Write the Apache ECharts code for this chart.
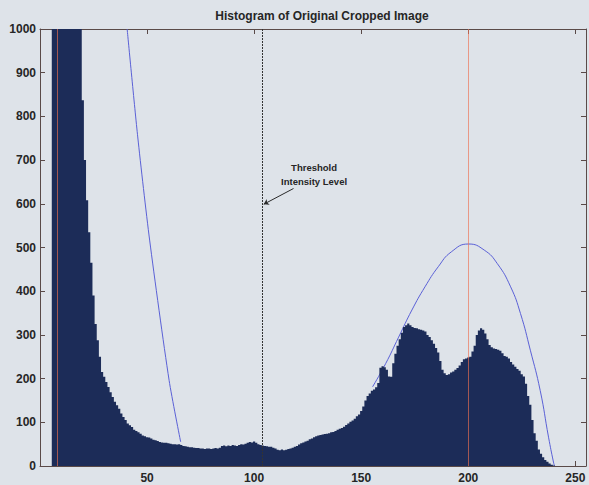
<!DOCTYPE html>
<html>
<head>
<meta charset="utf-8">
<script src="https://cdn.jsdelivr.net/npm/echarts@6/dist/echarts.min.js"></script>
<style>
  html, body { margin: 0; padding: 0; background: #dee3e9; }
  #chart { width: 589px; height: 485px; }
</style>
</head>
<body>
<div id="chart"></div>
<script>
// Pixel counts per grey level (0..255). Levels 6-19 run far above the 1000 limit.
const binCounts = [
  0, 0, 0, 0, 0, 0, 5400, 7600, 8200, 7100,
  6000, 4900, 4100, 3400, 2800, 2300, 1900, 1600, 1350, 1120,
  837, 700, 608, 535, 465, 390, 325, 288, 250, 215,
  204, 192, 181, 169, 158, 147, 139, 131, 120, 112,
  105, 97, 93, 89, 83, 80, 77, 74, 70, 68,
  66, 65, 63, 60, 59, 57, 55, 54, 53, 53,
  52, 51, 50, 50, 49, 50, 48, 46, 45, 44,
  43, 43, 42, 41, 41, 40, 40, 39, 40, 40,
  39, 40, 41, 40, 42, 46, 47, 45, 47, 46,
  48, 47, 46, 48, 50, 49, 51, 53, 55, 54,
  56, 53, 50, 48, 47, 46, 45, 44, 44, 42,
  40, 37, 36, 38, 36, 37, 39, 40, 42, 44,
  46, 49, 52, 54, 56, 58, 61, 63, 66, 68,
  70, 71, 72, 73, 74, 75, 77, 78, 80, 83,
  85, 87, 90, 94, 97, 101, 104, 108, 114, 118,
  126, 136, 150, 160, 166, 172, 175, 180, 190, 225,
  228, 226, 220, 205, 204, 235, 257, 275, 290, 305,
  318, 322, 326, 322, 318, 316, 315, 313, 312, 310,
  308, 300, 295, 288, 280, 270, 260, 240, 220, 212,
  208, 210, 214, 216, 220, 224, 230, 238, 244, 246,
  248, 250, 262, 275, 300, 310, 315, 312, 303, 290,
  277, 272, 269, 268, 266, 264, 258, 252, 250, 246,
  238, 232, 227, 222, 218, 210, 205, 188, 160, 140,
  105, 75, 58, 38, 28, 20, 14, 10, 6, 3,
  1, 0, 0, 0, 0, 0, 0, 0, 0, 0,
  0, 0, 0, 0, 0, 0
];

// Fitted curve on the dark side (falling branch)
const darkFitX = [40.7, 45.65, 51.2, 60.3, 65.7];
const darkFitY = [1000, 753, 517, 196, 55];

// Fitted curve on the bright side
const brightFitX = [155.3, 161.4, 167.5, 173.7, 179.8, 186.0, 192.1, 200.1, 207.5, 213.6, 219.8, 224.4, 229.0, 233.6, 237.5, 239.8, 240.3];
const brightFitY = [181, 234, 295, 357, 410, 456, 490, 508, 494, 463, 410, 349, 265, 173, 66, 9, 0];

// Vertical reference levels
const peakLevels = [8, 200];
const thresholdLevel = 104;

// Annotation anchor points (data coordinates)
const arrowFrom = [118.4, 635];
const arrowTo = [104.5, 599];
const noteAt = [128, 668];

const xTicks = [50, 100, 150, 200, 250];

const FONT = '"Liberation Sans", Arial, Helvetica, sans-serif';
const AXIS_COLOR = '#5a4a48';
const TEXT_COLOR = '#262626';
const BAR_COLOR = '#1c2c58';
const FIT_COLOR = '#5a60d6';

const zip = (xs, ys) => xs.map((x, i) => [x, ys[i]]);

const chart = echarts.init(document.getElementById('chart'), null, { renderer: 'svg' });

const axisCommonX = {
  type: 'value',
  min: 0,
  max: 255,
  interval: 50,
  axisLine: { show: true, onZero: false, lineStyle: { color: AXIS_COLOR, width: 1 } },
  axisTick: { show: true, inside: true, length: 5, lineStyle: { color: AXIS_COLOR } },
  splitLine: { show: false }
};
const axisCommonY = {
  type: 'value',
  min: 0,
  max: 1000,
  interval: 100,
  axisLine: { show: true, onZero: false, lineStyle: { color: AXIS_COLOR, width: 1 } },
  axisTick: { show: true, inside: true, length: 5, lineStyle: { color: AXIS_COLOR } },
  splitLine: { show: false }
};

// The whole histogram as one stepped outline (bins are one grey level wide).
function renderHistogram(params, api) {
  if (params.dataIndex !== 0) return null;
  const cs = params.coordSys;
  const yMax = 1000;
  const pts = [api.coord([-0.5, 0])];
  binCounts.forEach((count, level) => {
    const c = Math.min(count, yMax);
    pts.push(api.coord([level - 0.5, c]));
    pts.push(api.coord([level + 0.5, c]));
  });
  pts.push(api.coord([binCounts.length - 0.5, 0]));
  return {
    type: 'polygon',
    shape: { points: pts },
    style: { fill: BAR_COLOR, stroke: null },
    clipPath: { type: 'rect', shape: { x: cs.x, y: cs.y, width: cs.width, height: cs.height } }
  };
}

chart.setOption({
  animation: false,
  backgroundColor: '#dee3e9',
  title: {
    text: 'Histogram of Original Cropped Image',
    left: 317,
    top: 5,
    textAlign: 'center',
    textStyle: { fontFamily: FONT, fontSize: 12, fontWeight: 'bold', color: TEXT_COLOR }
  },
  grid: { left: 40, top: 29, width: 553, height: 437, containLabel: false },
  xAxis: [
    Object.assign({}, axisCommonX, {
      position: 'bottom',
      axisLabel: {
        show: true,
        margin: 6,
        fontFamily: FONT,
        fontSize: 12,
        fontWeight: 'bold',
        color: TEXT_COLOR,
        formatter: v => (xTicks.indexOf(v) >= 0 ? String(v) : '')
      }
    }),
    Object.assign({}, axisCommonX, { position: 'top', axisLabel: { show: false } })
  ],
  yAxis: [
    Object.assign({}, axisCommonY, {
      position: 'left',
      axisLabel: {
        show: true,
        margin: 4,
        fontFamily: FONT,
        fontSize: 12,
        fontWeight: 'bold',
        color: TEXT_COLOR,
        formatter: v => String(v)
      }
    }),
    Object.assign({}, axisCommonY, { position: 'right', axisLabel: { show: false } })
  ],
  series: [
    {
      name: 'dark fit',
      type: 'line',
      data: zip(darkFitX, darkFitY),
      smooth: 0.25,
      symbol: 'none',
      clip: true,
      z: 2,
      lineStyle: { color: FIT_COLOR, width: 1 }
    },
    {
      name: 'bright fit',
      type: 'line',
      data: zip(brightFitX, brightFitY),
      smooth: 0.5,
      symbol: 'none',
      clip: true,
      z: 2,
      lineStyle: { color: FIT_COLOR, width: 1 }
    },
    {
      name: 'histogram',
      type: 'custom',
      renderItem: renderHistogram,
      data: binCounts.map((v, i) => [i, v]),
      encode: { x: 0, y: 1 },
      clip: true,
      z: 3
    },
    {
      name: 'levels',
      type: 'line',
      data: [],
      z: 5,
      markLine: {
        silent: true,
        animation: false,
        symbol: ['none', 'none'],
        label: { show: false },
        data: [
          ...peakLevels.map(v => ({ xAxis: v, lineStyle: { color: 'rgba(236,112,82,0.65)', width: 1, type: 'solid' } })),
          { xAxis: thresholdLevel, lineStyle: { color: '#333333', width: 1, type: [2, 1] } },
          [
            { coord: arrowFrom, symbol: 'none', lineStyle: { color: '#2a2a2a', width: 1, type: 'solid' } },
            { coord: arrowTo, symbol: 'arrow', symbolSize: 5 }
          ]
        ]
      },
      markPoint: {
        silent: true,
        symbol: 'rect',
        symbolSize: 0,
        data: [{
          coord: noteAt,
          label: {
            show: true,
            position: 'inside',
            formatter: 'Threshold\nIntensity Level',
            fontFamily: FONT,
            fontSize: 9.5,
            fontWeight: 'bold',
            lineHeight: 14,
            align: 'center',
            color: TEXT_COLOR
          }
        }]
      }
    }
  ]
});
</script>
</body>
</html>
